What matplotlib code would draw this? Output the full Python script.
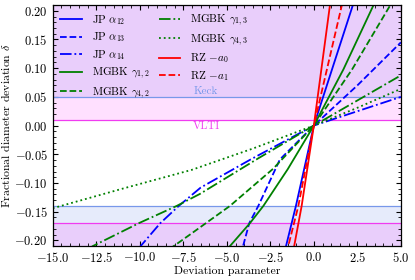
import matplotlib
matplotlib.use("Agg")
import matplotlib.pyplot as plt
from matplotlib.ticker import AutoMinorLocator, MultipleLocator

plt.rcParams['font.family'] = 'serif'
plt.rcParams['font.serif'] = ['cmr10']
plt.rcParams['mathtext.fontset'] = 'cm'
plt.rcParams['axes.formatter.use_mathtext'] = True

# ---- data ----
jp12_x = [-1.68, -1.03, 0.0, 1.12, 2.35]
jp12_y = [-0.22, -0.14, 0.0, 0.105, 0.22]

jp13_x = [-4.2, -3.71, -3.19, -1.95, 0.0, 2.5, 5.0]
jp13_y = [-0.225, -0.17, -0.14, -0.059, 0.0, 0.07, 0.145]

jp14_x = [-10.1, -9.95, -8.82, -7.76, -6.5, -3.57, 0.0, 5.0]
jp14_y = [-0.215, -0.21, -0.17, -0.14, -0.108, -0.058, 0.0, 0.050]

g12_x = [-5.0, -4.82, -3.67, -2.9, -1.5, 0.0, 1.7, 3.41, 3.6]
g12_y = [-0.215, -0.21, -0.17, -0.14, -0.076, 0.0, 0.098, 0.2087, 0.222]

g42_x = [-8.3, -8.05, -7.12, -4.82, -2.33, 0.0, 2.2, 4.37, 4.6]
g42_y = [-0.215, -0.21, -0.19, -0.14, -0.075, 0.0, 0.098, 0.2087, 0.222]

g13_x = [-13.0, -12.7, -10.05, -7.88, -6.54, -3.19, 0.0, 5.0]
g13_y = [-0.216, -0.21, -0.17, -0.14, -0.119, -0.057, 0.0, 0.0875]

g43_x = [-15.0, -11.0, -7.0, -3.5, 0.0, 2.5, 5.0]
g43_y = [-0.144, -0.110, -0.077, -0.040, 0.0, 0.031, 0.064]

rza0_x = [-1.2, -1.13, -0.70, 0.0, 0.92, 0.97]
rza0_y = [-0.222, -0.21, -0.14, 0.0, 0.2087, 0.22]

rza1_x = [-1.55, -1.47, -0.89, 0.0, 1.6, 1.69]
rza1_y = [-0.222, -0.21, -0.14, 0.0, 0.2087, 0.22]

keck_limits = [-0.14, 0.05]
vlti_limits = [-0.17, 0.01]

# ---- plot ----
fig = plt.figure(figsize=(4.15, 2.8), dpi=100)
ax = fig.add_axes([0.127, 0.121, 0.839, 0.861])

xlim = (-15, 5)
ylim = (-0.21, 0.21)

keck_c = '#7898ea'
vlti_c = '#f03cf0'
ax.axhspan(keck_limits[1], ylim[1], color='royalblue', alpha=0.13, lw=0)
ax.axhspan(ylim[0], keck_limits[0], color='royalblue', alpha=0.13, lw=0)
ax.axhspan(vlti_limits[1], ylim[1], color='magenta', alpha=0.12, lw=0)
ax.axhspan(ylim[0], vlti_limits[0], color='magenta', alpha=0.12, lw=0)
for v in keck_limits:
    ax.axhline(v, color=keck_c, lw=0.9)
for v in vlti_limits:
    ax.axhline(v, color=vlti_c, lw=0.9)
ax.text(-6.2, keck_limits[1] + 0.002, 'Keck', color=keck_c, ha='center', va='bottom', fontsize=8)
ax.text(-6.2, vlti_limits[1] - 0.003, 'VLTI', color=vlti_c, ha='center', va='top', fontsize=8)

lw = 1.3
ax.plot(jp12_x, jp12_y, color='blue', ls='-', lw=lw, label=r'JP $\alpha_{12}$')
ax.plot(jp13_x, jp13_y, color='blue', ls='--', lw=lw, label=r'JP $\alpha_{13}$')
ax.plot(jp14_x, jp14_y, color='blue', ls='-.', lw=lw, label=r'JP $\alpha_{14}$')
ax.plot(g12_x, g12_y, color='green', ls='-', lw=lw, label=r'MGBK $\gamma_{1,2}$')
ax.plot(g42_x, g42_y, color='green', ls='--', lw=lw, label=r'MGBK $\gamma_{4,2}$')
ax.plot(g13_x, g13_y, color='green', ls='-.', lw=lw, label=r'MGBK $\gamma_{1,3}$')
ax.plot(g43_x, g43_y, color='green', ls=':', lw=lw, label=r'MGBK $\gamma_{4,3}$')
ax.plot(rza0_x, rza0_y, color='red', ls='-', lw=lw, label=r'RZ $-a_0$')
ax.plot(rza1_x, rza1_y, color='red', ls='--', lw=lw, label=r'RZ $-a_1$')

ax.set_xlim(*xlim)
ax.set_ylim(*ylim)
ax.xaxis.set_major_locator(MultipleLocator(2.5))
ax.yaxis.set_major_locator(MultipleLocator(0.05))
ax.xaxis.set_minor_locator(AutoMinorLocator(5))
ax.yaxis.set_minor_locator(AutoMinorLocator(5))
ax.tick_params(which='both', direction='in', top=True, right=True, labelsize=9)
ax.tick_params(which='major', length=3.5, width=0.8)
ax.tick_params(which='minor', length=2, width=0.6)
for s in ax.spines.values():
    s.set_linewidth(0.9)

ax.set_xlabel('Deviation parameter', fontsize=8.5, labelpad=1)
ax.set_ylabel(r'Fractional diameter deviation $\delta$', fontsize=8.5, labelpad=2)

ax.legend(ncol=2, loc='upper left', frameon=False, fontsize=8, handlelength=1.9,
          columnspacing=0.9, labelspacing=0.35, borderaxespad=0.3, handletextpad=0.9)

fig.savefig('out.png', dpi=100)
